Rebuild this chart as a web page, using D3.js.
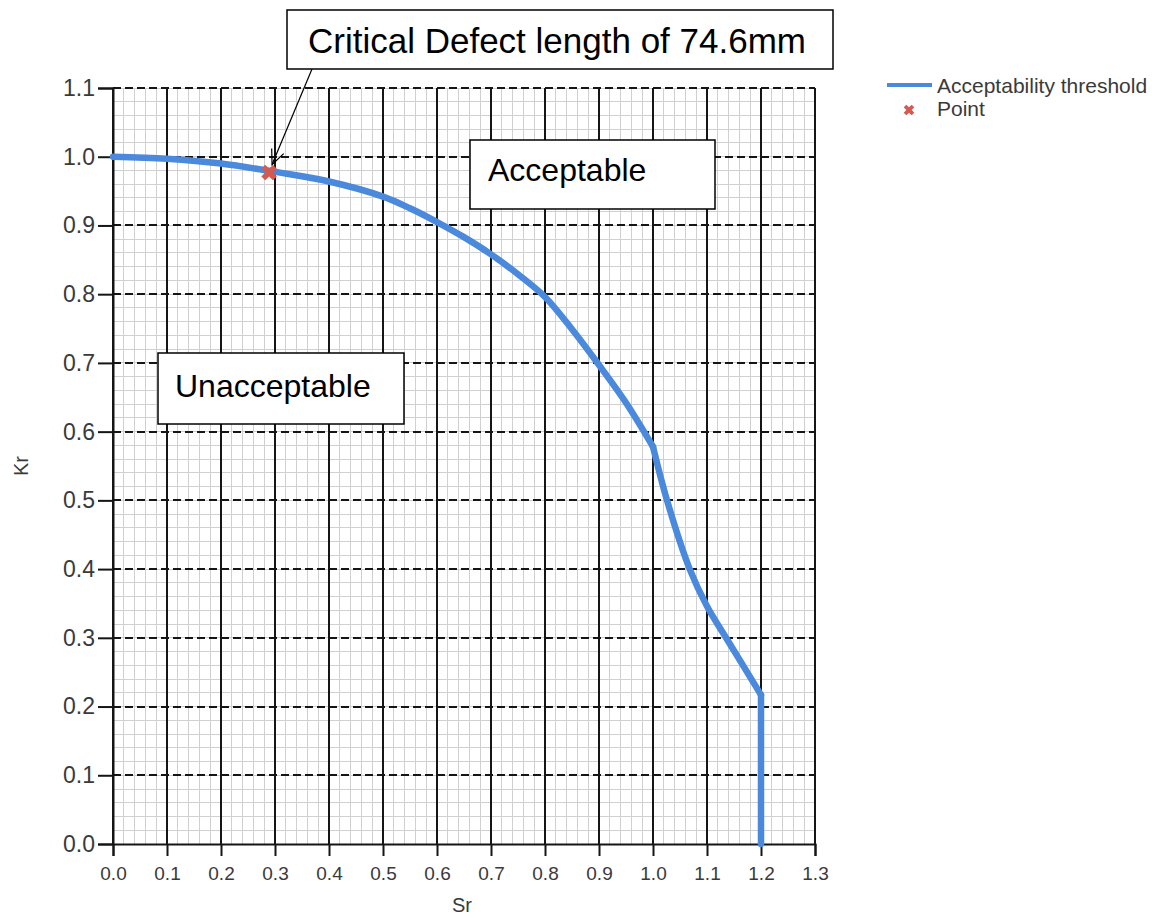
<!DOCTYPE html>
<html>
<head>
<meta charset="utf-8">
<script src="https://cdn.jsdelivr.net/npm/d3@7"></script>
<style>
    body { margin: 0; background: #fff; }
    text { font-family: "Liberation Sans", Arial, sans-serif; }
</style>
</head>
<body>
<div id="chartArea"></div>
<script>
// acceptability threshold curve
const thresholdSr = [0.0, 0.1, 0.2, 0.3, 0.4, 0.5, 0.55, 0.6, 0.65, 0.7, 0.75, 0.8, 0.85, 0.9, 0.95, 1.0, 1.026, 1.068, 1.1, 1.137, 1.2, 1.2];
const thresholdKr = [1.0, 0.997, 0.99, 0.978, 0.964, 0.942, 0.925, 0.905, 0.883, 0.858, 0.829, 0.796, 0.749, 0.697, 0.642, 0.578, 0.5, 0.4, 0.346, 0.298, 0.217, 0.0];

// assessed point
const pointSr = [0.289];
const pointKr = [0.977];

const xTickValues = [0.0, 0.1, 0.2, 0.3, 0.4, 0.5, 0.6, 0.7, 0.8, 0.9, 1.0, 1.1, 1.2, 1.3];
const yTickValues = [0.0, 0.1, 0.2, 0.3, 0.4, 0.5, 0.6, 0.7, 0.8, 0.9, 1.0, 1.1];
const legendLabels = ["Acceptability threshold", "Point"];
const noteLabels = ["Critical Defect length of 74.6mm", "Acceptable", "Unacceptable"];

const lineColor = "#4a89dc";
const pointColor = "#d45a4f";

const width = 1160, height = 920;
const plot = { left: 113, right: 815, top: 88, bottom: 844 };

const svg = d3.select("#chartArea").append("svg")
    .attr("width", width)
    .attr("height", height);

const x = d3.scaleLinear().domain([0, 1.3]).range([plot.left, plot.right]);
const y = d3.scaleLinear().domain([0, 1.1]).range([plot.bottom, plot.top]);

// minor grid, every 0.02
const minorX = d3.range(0, 66).map(i => i * 0.02);
const minorY = d3.range(0, 56).map(i => i * 0.02);
const grid = svg.append("g").attr("shape-rendering", "crispEdges");

grid.selectAll(".minor-x").data(minorX).enter().append("line")
    .attr("x1", d => x(d)).attr("x2", d => x(d))
    .attr("y1", plot.top).attr("y2", plot.bottom)
    .style("stroke", "#d0d0d0").style("stroke-width", 1);

grid.selectAll(".minor-y").data(minorY).enter().append("line")
    .attr("y1", d => y(d)).attr("y2", d => y(d))
    .attr("x1", plot.left).attr("x2", plot.right)
    .style("stroke", "#d0d0d0").style("stroke-width", 1);

// major grid: solid verticals, dashed horizontals
grid.selectAll(".major-x").data(xTickValues).enter().append("line")
    .attr("x1", d => x(d)).attr("x2", d => x(d))
    .attr("y1", plot.top).attr("y2", plot.bottom)
    .style("stroke", "#151515").style("stroke-width", 2);

grid.selectAll(".major-y").data(yTickValues.filter(d => d > 0)).enter().append("line")
    .attr("y1", d => y(d)).attr("y2", d => y(d))
    .attr("x1", plot.left).attr("x2", plot.right)
    .style("stroke", "#151515").style("stroke-width", 2)
    .style("stroke-dasharray", "8,4");

// axes
const fmt = d3.format(".1f");
const yAxis = svg.append("g")
    .attr("transform", `translate(${plot.left},0)`)
    .call(d3.axisLeft(y).tickValues(yTickValues).tickFormat(fmt).tickSize(15).tickPadding(3));
const xAxis = svg.append("g")
    .attr("transform", `translate(0,${plot.bottom})`)
    .call(d3.axisBottom(x).tickValues(xTickValues).tickFormat(fmt).tickSize(12).tickPadding(11));

[yAxis, xAxis].forEach(ax => {
    ax.attr("font-family", null).attr("font-size", null);
    ax.select(".domain").style("stroke", "#151515").style("stroke-width", 2);
    ax.selectAll(".tick line").style("stroke", "#151515").style("stroke-width", 2);
    ax.selectAll(".tick text").style("fill", "#3a3a3a");
});
yAxis.selectAll(".tick text").style("font-size", "23px");
xAxis.selectAll(".tick text").style("font-size", "19px");

svg.append("text")
    .attr("transform", "translate(28,466) rotate(-90)")
    .attr("text-anchor", "middle")
    .style("font-size", "20px").style("fill", "#3a3a3a")
    .text("Kr");

svg.append("text")
    .attr("x", 462).attr("y", 912)
    .attr("text-anchor", "middle")
    .style("font-size", "20px").style("fill", "#3a3a3a")
    .text("Sr");

// threshold line: smooth pieces, kink at Sr 1.0, straight drop at Sr 1.2
const thresholdData = thresholdSr.map((s, i) => ({ sr: s, kr: thresholdKr[i] }));
const kinkIdx = thresholdSr.indexOf(1.0);
const dropIdx = thresholdSr.indexOf(1.2);
const pieces = [
    { pts: thresholdData.slice(0, kinkIdx + 1), curve: d3.curveCatmullRom.alpha(0.5) },
    { pts: thresholdData.slice(kinkIdx, dropIdx + 1), curve: d3.curveCatmullRom.alpha(0.5) },
    { pts: thresholdData.slice(dropIdx), curve: d3.curveLinear }
];
svg.selectAll(".threshold").data(pieces).enter().append("path")
    .attr("d", p => d3.line().curve(p.curve).x(d => x(d.sr)).y(d => y(d.kr))(p.pts))
    .style("fill", "none")
    .style("stroke", lineColor)
    .style("stroke-width", 6.5)
    .style("stroke-linejoin", "round")
    .style("stroke-linecap", "round");

// point marker
const pointData = pointSr.map((s, i) => ({ sr: s, kr: pointKr[i] }));
const cross = d3.symbol().type(d3.symbolCross);
svg.selectAll(".pt").data(pointData).enter().append("path")
    .attr("d", cross.size(150)())
    .attr("transform", d => `translate(${x(d.sr)},${y(d.kr)}) rotate(45)`)
    .style("fill", pointColor);

// annotation boxes
const notes = [
    { label: noteLabels[0], x0: 287, y0: 10, x1: 833, y1: 69, tx: 308, ty: 53, fs: 35 },
    { label: noteLabels[1], x0: 470, y0: 140, x1: 715, y1: 209, tx: 488, ty: 181, fs: 32 },
    { label: noteLabels[2], x0: 158, y0: 353, x1: 404, y1: 424, tx: 175, ty: 397, fs: 32 }
];

// arrow from the note to the point
const tip = { x: x(pointData[0].sr) + 3, y: y(pointData[0].kr) - 8 };
const tail = { x: 312, y: 69 };
const ang = Math.atan2(tail.y - tip.y, tail.x - tip.x);
const headLen = 16, headAng = 0.42;
svg.append("line")
    .attr("x1", tail.x).attr("y1", tail.y).attr("x2", tip.x).attr("y2", tip.y)
    .style("stroke", "#000").style("stroke-width", 1.2);
svg.append("path")
    .attr("d", `M${tip.x + headLen * Math.cos(ang - headAng)},${tip.y + headLen * Math.sin(ang - headAng)}`
        + `L${tip.x},${tip.y}`
        + `L${tip.x + headLen * Math.cos(ang + headAng)},${tip.y + headLen * Math.sin(ang + headAng)}`)
    .style("fill", "none").style("stroke", "#000").style("stroke-width", 1.2);

const noteG = svg.selectAll(".note").data(notes).enter().append("g");
noteG.append("rect")
    .attr("x", d => d.x0).attr("y", d => d.y0)
    .attr("width", d => d.x1 - d.x0).attr("height", d => d.y1 - d.y0)
    .style("fill", "#fff").style("stroke", "#000").style("stroke-width", 1.5);
noteG.append("text")
    .attr("x", d => d.tx).attr("y", d => d.ty)
    .style("font-size", d => d.fs + "px").style("fill", "#000")
    .text(d => d.label);

// legend
const legend = svg.append("g").attr("transform", "translate(887,0)");
legend.append("line")
    .attr("x1", 0).attr("x2", 45).attr("y1", 85).attr("y2", 85)
    .style("stroke", lineColor).style("stroke-width", 4);
legend.append("path")
    .attr("d", d3.symbol().type(d3.symbolCross).size(70)())
    .attr("transform", "translate(22,110) rotate(45)")
    .style("fill", pointColor);
legend.selectAll(".lt").data(legendLabels).enter().append("text")
    .attr("x", 50)
    .attr("y", (d, i) => 93 + i * 23)
    .style("font-size", "21px").style("fill", "#3a3a3a")
    .text(d => d);
</script>
</body>
</html>
